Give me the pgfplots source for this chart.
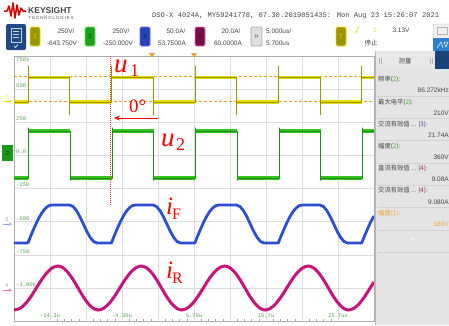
\documentclass[border=0pt]{standalone}
\usepackage{pgfplots}
\pgfplotsset{compat=1.18}
\usetikzlibrary{arrows.meta}
\usepackage{fontspec}
\setmainfont{Liberation Sans}
\newfontfamily\serif{Liberation Serif}
\newfontfamily\mono{Liberation Mono}
\newfontfamily\cjk{Noto Sans CJK SC}
\newcommand\fs[1]{\fontsize{#1}{#1}\selectfont}
\definecolor{yel}{HTML}{E6DC00}
\definecolor{olv}{HTML}{9A9400}
\definecolor{grn}{HTML}{35C41E}
\definecolor{dgrn}{HTML}{1E8C1E}
\definecolor{blu}{HTML}{2C4FD2}
\definecolor{mag}{HTML}{C8127C}
\definecolor{lab}{HTML}{55A055}
\definecolor{gridc}{HTML}{DCDCDC}
\definecolor{orng}{HTML}{F0A030}
\definecolor{panel}{HTML}{E4E4E4}
\definecolor{txt}{HTML}{444444}
\definecolor{iconblue}{HTML}{1F4A86}
\definecolor{tabblue}{HTML}{2A7FCF}
\begin{document}
\begin{tikzpicture}
\useasboundingbox (0pt,0pt) rectangle (449pt,-325pt);
\begin{scope}[x=1pt,y=-1pt]
% header
\draw[red!85!black, line width=1.5pt, line join=round] (4,11) -- (7,11) -- (9,6) -- (11,16) -- (13,3) -- (15,18) -- (17,5) -- (19,15) -- (21,8) -- (23,11) -- (26,11);
\node[anchor=base west, inner sep=0, font=\fs{8.5}\bfseries, text=txt] at (28,13.5) {KEYSIGHT};
\node[anchor=base west, inner sep=0, font=\fs{4.2}\addfontfeature{LetterSpace=25}, text=txt] at (28.5,19) {TECHNOLOGIES};
\node[anchor=base west, inner sep=0, font=\mono\fs{7.1}, text=txt] at (152,17) {DSO-X 4024A, MY59241778, 07.30.2019051435: Mon Aug 23 15:26:07 2021};
% channel row
\fill[iconblue, rounded corners=2pt] (6,24) rectangle (26,50);
\draw[white!75!iconblue, line width=0.6pt] (11,28) rectangle (21,42);
\draw[white!75!iconblue, line width=0.5pt] (13,31)--(19,31) (13,34)--(19,34) (13,37)--(19,37);
\draw[white, line width=0.6pt] (14,46)--(15.5,47.5)--(18,44.5);
\draw[yel, fill=olv, rounded corners=1.5pt, line width=0.8pt] (30,27) rectangle (40,46);
\node[text=yel, font=\fs{6}] at (35,36.5) {1};
\node[text=txt, font=\fs{6.5}] at (66,31) {250V/};
\node[text=txt, font=\fs{6.5}] at (62,43) {-643.750V};
\draw[grn!70!white, fill=dgrn!80!green, rounded corners=1.5pt, line width=0.8pt] (85,27) rectangle (95,46);
\node[text=dgrn!50!black, font=\fs{6}] at (90,36.5) {2};
\node[text=txt, font=\fs{6.5}] at (121,31) {250V/};
\node[text=txt, font=\fs{6.5}] at (118,43) {-250.000V};
\draw[blue!60!white, fill=blu!85!black, rounded corners=1.5pt, line width=0.8pt] (140,27) rectangle (150,46);
\node[text=blu!40!black, font=\fs{6}] at (145,36.5) {3};
\node[text=txt, font=\fs{6.5}] at (176,31) {50.0A/};
\node[text=txt, font=\fs{6.5}] at (172,43) {53.7500A};
\draw[mag!60!white, fill=mag!60!black, rounded corners=1.5pt, line width=0.8pt] (195,27) rectangle (205,46);
\node[text=mag!40!black, font=\fs{6}] at (200,36.5) {4};
\node[text=txt, font=\fs{6.5}] at (231,31) {20.0A/};
\node[text=txt, font=\fs{6.5}] at (228,43) {60.0000A};
\draw[gray!70, fill=gray!25, rounded corners=1.5pt, line width=0.8pt] (251,27) rectangle (262,46);
\node[text=gray!80!black, font=\fs{5.5}] at (256.5,36.5) {H};
\node[anchor=west, inner sep=0, text=txt, font=\fs{6.5}] at (266,31) {5.000us/};
\node[anchor=west, inner sep=0, text=txt, font=\fs{6.5}] at (266,43) {5.700us};
\draw[yel, fill=olv, rounded corners=1.5pt, line width=0.8pt] (336,27) rectangle (346,46);
\node[text=yel, font=\fs{6}] at (341,36.5) {T};
\draw[yel, line width=0.6pt] (354,33)--(356,33)--(358,27)--(360,27);
\node[text=yel, font=\fs{6.5}] at (375,30) {1};
\node[text=txt, font=\fs{6.5}] at (401,30) {3.13V};
\node[text=txt, font=\cjk\fs{6.5}] at (371,43) {停止};
\draw[gray!60, fill=gray!12, rounded corners=1pt] (433,24) rectangle (452,37);
\draw[gray!60] (437,27) rectangle (447,34);
\fill[tabblue] (433,38) rectangle (452,51);
\draw[white, line width=0.5pt] (437,48)--(441,42)--(443,48) (444,42)--(448,42)--(446,47)--cycle;
% right panel
\fill[panel] (375,51) rectangle (449,325);
\fill[gray!18] (376,52) rectangle (435,69);
\fill[iconblue!90!black] (435,51) rectangle (449,69);
\draw[gray!55, line width=0.6pt] (375,51) -- (375,325);
\node[text=txt, font=\cjk\fs{6.3}] at (405,61) {测量};
\draw[gray!60, line width=0.4pt] (379,58)--(379,64) (381,58)--(381,64) (430,58)--(430,64) (432,58)--(432,64);
\begin{scope}[every node/.style={inner sep=0, text=txt}]
\node[anchor=west, font=\cjk\fs{6.3}] at (378,79) {频率(\textcolor{grn}{2}):};
\node[anchor=east, font=\fs{6.5}] at (449,90) {86.272kHz};
\node[anchor=west, font=\cjk\fs{6.3}] at (378,102) {最大电平(\textcolor{grn}{2}):};
\node[anchor=east, font=\fs{6.5}] at (449,113) {210V};
\node[anchor=west, font=\cjk\fs{6.3}] at (378,124) {交流有效值 ... (\textcolor{blu}{3}):};
\node[anchor=east, font=\fs{6.5}] at (449,135) {21.74A};
\node[anchor=west, font=\cjk\fs{6.3}] at (378,146) {幅度(\textcolor{grn}{2}):};
\node[anchor=east, font=\fs{6.5}] at (449,157) {360V};
\node[anchor=west, font=\cjk\fs{6.3}] at (378,168) {直流有效值 ... (\textcolor{mag}{4}):};
\node[anchor=east, font=\fs{6.5}] at (449,179) {9.08A};
\node[anchor=west, font=\cjk\fs{6.3}] at (378,190) {交流有效值 ... (\textcolor{mag}{4}):};
\node[anchor=east, font=\fs{6.5}] at (449,202) {9.080A};
\node[anchor=west, font=\cjk\fs{6.3}, text=orng] at (378,213) {幅度(1):};
\node[anchor=east, font=\fs{6.5}, text=orng] at (449,224) {180V};
\node[font=\fs{9}, text=white] at (413,240) {+};
\end{scope}
\draw[gray!35, line width=0.5pt] (377,96)--(449,96) (377,118)--(449,118) (377,140)--(449,140) (377,163)--(449,163) (377,185)--(449,185) (377,207)--(449,207) (377,230)--(449,230) (377,252)--(449,252);
% channel markers on left
\node[text=yel, font=\fs{5}] at (7,97) {1};
\draw[yel, line width=0.5pt, -stealth] (4,101) -- (12,101);
\fill[dgrn!90!green] (2,145) rectangle (13,161);
\node[text=dgrn!40!black, font=\fs{6}] at (7.5,153) {2};
\node[text=blu!50!white, font=\fs{5.5}] at (7,220) {3};
\draw[blu!50!white, line width=0.5pt, -stealth] (3,224) -- (12,224);
\node[text=mag!60!white, font=\fs{5.5}] at (7,286) {4};
\draw[mag!60!white, line width=0.5pt, -stealth] (3,290) -- (12,290);
\end{scope}
\begin{axis}[at={(14pt,-321pt)}, anchor=south west, scale only axis,
  width=360pt, height=265pt,
  xmin=-19.3, xmax=30.7, ymin=-1250, ymax=750,
  xtick={-14.3,-9.3,-4.3,0.7,5.7,10.7,15.7,20.7,25.7},
  ytick={-1000,-750,-500,-250,0,250,500},
  minor x tick num=4, xtick pos=bottom, ytick pos=left,
  xticklabels={}, yticklabels={},
  grid=major, major grid style={gridc, line width=0.5pt},
  major tick length=0pt, minor tick length=2pt, tick align=inside,
  minor tick style={gray!70},
  axis line style={gray!65, line width=0.6pt},
  unbounded coords=jump, clip=true]
% cursors
\addplot[orng, line width=0.6pt, dash pattern=on 3pt off 2pt] coordinates {(-19.3,598) (30.7,598)};
\addplot[orng, line width=0.6pt, dash pattern=on 3pt off 2pt] coordinates {(-19.3,410) (30.7,410)};
% ch1
\addplot[yel, line width=3.2pt] coordinates {(-19.3,403) (-17.36,403) (-17.36,nan) (-17.36,588) (-11.57,588) (-11.57,nan) (-11.57,403) (-5.77,403) (-5.77,nan) (-5.77,588) (0.02,588) (0.02,nan) (0.02,403) (5.82,403) (5.82,nan) (5.82,588) (11.62,588) (11.62,nan) (11.62,403) (17.41,403) (17.41,nan) (17.41,588) (23.21,588) (23.21,nan) (23.21,403) (29.0,403) (29.0,nan) (29.0,588) (30.7,588)};
\addplot[olv, line width=0.7pt, line join=bevel] coordinates {(-19.3,403) (-17.36,403) (-17.36,674) (-17.36,588) (-11.57,588) (-11.57,305) (-11.57,403) (-5.77,403) (-5.77,674) (-5.77,588) (0.02,588) (0.02,305) (0.02,403) (5.82,403) (5.82,674) (5.82,588) (11.62,588) (11.62,305) (11.62,403) (17.41,403) (17.41,674) (17.41,588) (23.21,588) (23.21,305) (23.21,403) (29.0,403) (29.0,674) (29.0,588) (30.7,588)};
% ch2
\addplot[grn, line width=3.5pt] coordinates {(-19.3,-171) (-17.3,-171) (-17.3,nan) (-17.3,184) (-11.5,184) (-11.5,nan) (-11.5,-171) (-5.7,-171) (-5.7,nan) (-5.7,184) (0.1,184) (0.1,nan) (0.1,-171) (5.9,-171) (5.9,nan) (5.9,184) (11.7,184) (11.7,nan) (11.7,-171) (17.5,-171) (17.5,nan) (17.5,184) (23.3,184) (23.3,nan) (23.3,-171) (29.05,-171) (29.05,nan) (29.05,184) (30.7,184)};
\addplot[dgrn, line width=0.6pt, line join=bevel] coordinates {(-19.3,-171) (-17.3,-171) (-17.3,210) (-17.3,184) (-11.5,184) (-11.5,-190) (-11.5,-171) (-5.7,-171) (-5.7,210) (-5.7,184) (0.1,184) (0.1,-190) (0.1,-171) (5.9,-171) (5.9,210) (5.9,184) (11.7,184) (11.7,-190) (11.7,-171) (17.5,-171) (17.5,210) (17.5,184) (23.3,184) (23.3,-190) (23.3,-171) (29.05,-171) (29.05,210) (29.05,184) (30.7,184)};
% ch3 iF
\addplot[blu, line width=2.8pt, line join=round] coordinates {(-19.3,-661) (-17.36,-661) (-16.95,-605) (-16.54,-552) (-16.12,-502) (-15.71,-459) (-15.30,-423) (-14.89,-397) (-14.47,-380) (-14.06,-375) (-11.57,-375) (-11.09,-386) (-10.62,-417) (-10.14,-463) (-9.67,-518) (-9.19,-573) (-8.72,-619) (-8.24,-650) (-7.77,-661) (-5.77,-661) (-5.36,-605) (-4.95,-552) (-4.53,-502) (-4.12,-459) (-3.71,-423) (-3.30,-397) (-2.88,-380) (-2.47,-375) (0.03,-375) (0.50,-386) (0.98,-417) (1.45,-463) (1.93,-518) (2.40,-573) (2.88,-619) (3.35,-650) (3.83,-661) (5.82,-661) (6.23,-605) (6.65,-552) (7.06,-502) (7.47,-459) (7.88,-423) (8.30,-397) (8.71,-380) (9.12,-375) (11.62,-375) (12.09,-386) (12.57,-417) (13.04,-463) (13.52,-518) (13.99,-573) (14.47,-619) (14.94,-650) (15.42,-661) (17.41,-661) (17.82,-605) (18.24,-552) (18.65,-502) (19.06,-459) (19.47,-423) (19.89,-397) (20.30,-380) (20.71,-375) (23.21,-375) (23.68,-386) (24.16,-417) (24.63,-463) (25.11,-518) (25.58,-573) (26.06,-619) (26.53,-650) (27.01,-661) (29.00,-661) (29.41,-605) (29.83,-552) (30.24,-502) (30.70,-457)};
% ch4 iR
\addplot[mag, line width=3pt, smooth] coordinates {(-19.3,-1167) (-18.44,-1154) (-17.69,-1118) (-16.94,-1065) (-16.20,-1001) (-15.45,-937) (-14.70,-884) (-13.95,-848) (-13.20,-835) (-12.50,-848) (-11.80,-884) (-11.10,-937) (-10.40,-1001) (-9.70,-1065) (-9.00,-1118) (-8.30,-1154) (-7.60,-1167) (-6.85,-1154) (-6.10,-1118) (-5.35,-1065) (-4.61,-1001) (-3.86,-937) (-3.11,-884) (-2.36,-848) (-1.61,-835) (-0.91,-848) (-0.21,-884) (0.49,-937) (1.19,-1001) (1.89,-1065) (2.59,-1118) (3.29,-1154) (3.99,-1167) (4.74,-1154) (5.49,-1118) (6.24,-1065) (6.99,-1001) (7.73,-937) (8.48,-884) (9.23,-848) (9.98,-835) (10.68,-848) (11.38,-884) (12.08,-937) (12.78,-1001) (13.48,-1065) (14.18,-1118) (14.88,-1154) (15.58,-1167) (16.33,-1154) (17.08,-1118) (17.83,-1065) (18.58,-1001) (19.32,-937) (20.07,-884) (20.82,-848) (21.57,-835) (22.27,-848) (22.97,-884) (23.67,-937) (24.37,-1001) (25.07,-1065) (25.77,-1118) (26.47,-1154) (27.17,-1167) (27.92,-1154) (28.67,-1118) (29.41,-1065) (30.16,-1001) (30.70,-955)};
% red marker line
\addplot[red!80!white, line width=0.8pt, dash pattern=on 1pt off 1pt] coordinates {(-5.85,750) (-5.85,-374)};
\end{axis}
\begin{scope}[x=1pt,y=-1pt]
% trigger markers
\fill[orng] (149,53) -- (155,53) -- (152,57.5) -- cycle;
\fill[orng] (191,53) -- (197,53) -- (194,57.5) -- cycle;
% y labels (ch2 scale)
\begin{scope}[every node/.style={anchor=west, inner sep=0, text=lab, font=\mono\fs{5.5}}]
\node at (16,60) {750V};
\node at (16,85.5) {500};
\node at (16,118.5) {250};
\node at (16,151.5) {0.0};
\node at (16,185) {-250};
\node at (16,218.5) {-500};
\node at (16,251.5) {-750};
\node at (16,285) {-1.00k};
\end{scope}
\begin{scope}[every node/.style={inner sep=0, text=lab, font=\mono\fs{5.5}}]
\node at (50,316) {-14.3u};
\node at (122,316) {-4.30u};
\node at (194,316) {5.70u};
\node at (266,316) {15.7u};
\node at (338,316) {25.7us};
\end{scope}
% annotations
\draw[red, line width=0.7pt, -{Stealth[length=6pt,width=5pt]}] (158,118) -- (114,118);
\begin{scope}[every node/.style={inner sep=0, anchor=base west, text=red}]
\node[font=\serif\itshape\fs{27}] at (114,72) {u};
\node[font=\serif\fs{18}] at (130,76) {1};
\node[font=\serif\fs{19}] at (129,112) {0°};
\node[font=\serif\itshape\fs{27}] at (161,146) {u};
\node[font=\serif\fs{18}] at (176,150) {2};
\node[font=\serif\itshape\fs{25}] at (166,214) {i};
\node[font=\serif\fs{16}] at (172,219) {F};
\node[font=\serif\itshape\fs{25}] at (166,278) {i};
\node[font=\serif\fs{16}] at (172,283) {R};
\end{scope}
\end{scope}
\end{tikzpicture}
\end{document}
